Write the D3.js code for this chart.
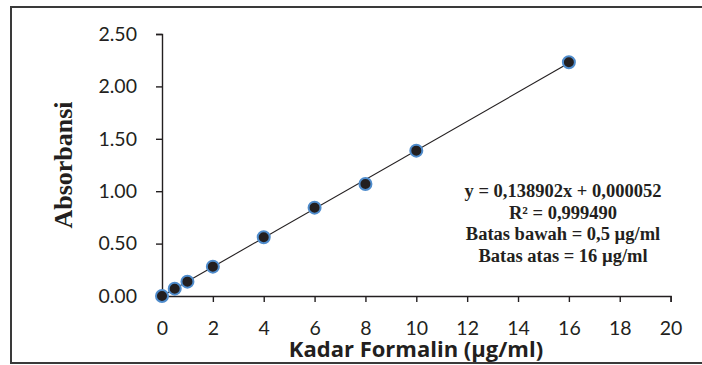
<!DOCTYPE html>
<html>
<head>
<meta charset="utf-8">
<script src="https://cdn.jsdelivr.net/npm/d3@7"></script>
<style>
  html, body { margin: 0; padding: 0; background: #fff; }
  svg { display: block; }
</style>
</head>
<body>
<svg id="chart" width="702" height="365"></svg>
<script>
// kurva kalibrasi formalin
const kadar = [0, 0.5, 1, 2, 4, 6, 8, 10, 16];          // µg/ml
const absorbansi = [0.0, 0.07, 0.137, 0.28, 0.56, 0.843, 1.069, 1.387, 2.23];
const xTicks = [0, 2, 4, 6, 8, 10, 12, 14, 16, 18, 20];
const yTicks = [0, 0.5, 1.0, 1.5, 2.0, 2.5];
const slope = 0.138902, intercept = 0.000052;
const trendX = [0, 16];
const notes = ["y = 0,138902x + 0,000052", "R² = 0,999490", "Batas bawah = 0,5 µg/ml", "Batas atas = 16 µg/ml"];

const INK = "#231f20", BLUE = "#4f8ccc";
const svg = d3.select("#chart");

// bingkai luar (kanan terpotong)
svg.append("rect").attr("x", 11).attr("y", 7).attr("width", 720).attr("height", 356)
  .attr("fill", "none").attr("stroke", "#3a3a3a").attr("stroke-width", 2);

const x = d3.scaleLinear().domain([0, 20]).range([162, 670.6]);
const y = d3.scaleLinear().domain([0, 2.5]).range([296, 34]);

// sumbu
const gx = svg.append("g").attr("transform", "translate(0,296)")
  .call(d3.axisBottom(x).tickValues(xTicks).tickSize(6).tickPadding(22).tickFormat(d3.format("d")));
const gy = svg.append("g").attr("transform", "translate(162,0)")
  .call(d3.axisLeft(y).tickValues(yTicks).tickSize(6).tickPadding(19).tickFormat(d3.format(".2f")));
[gx, gy].forEach((g) => {
  g.select(".domain").attr("stroke", INK).attr("stroke-width", 1.4);
  g.selectAll(".tick line").attr("stroke", INK).attr("stroke-width", 1.4);
  g.selectAll(".tick text").attr("fill", INK).attr("font-family", "Lato, sans-serif").attr("font-size", 19.5);
});
gx.selectAll(".tick text").attr("dy", "0.55em");

// garis tren dari persamaan
const line = d3.line().x((d) => x(d)).y((d) => y(slope * d + intercept));
svg.append("path").datum(trendX).attr("d", line).attr("fill", "none").attr("stroke", INK).attr("stroke-width", 1.1);

// titik data
svg.append("g").selectAll("circle").data(kadar).join("circle")
  .attr("cx", (d) => x(d)).attr("cy", (d, i) => y(absorbansi[i])).attr("r", 6)
  .attr("fill", INK).attr("stroke", BLUE).attr("stroke-width", 2);

// judul sumbu (menimpa label tick, seperti aslinya)
svg.append("text").attr("x", 416).attr("y", 357).attr("text-anchor", "middle")
  .attr("font-family", "'Open Sans', sans-serif").attr("font-weight", 700).attr("font-size", 22).attr("fill", INK)
  .text("Kadar Formalin (µg/ml)");
svg.append("text").attr("transform", "translate(72,165) rotate(-90)").attr("text-anchor", "middle")
  .attr("font-family", "'Liberation Serif', 'Times New Roman', serif").attr("font-weight", 700).attr("font-size", 26).attr("fill", INK)
  .text("Absorbansi");

// keterangan regresi
svg.append("g").selectAll("text").data(notes).join("text")
  .attr("x", 563).attr("y", (d, i) => 197 + i * 21.7).attr("text-anchor", "middle")
  .attr("font-family", "'Liberation Serif', 'Times New Roman', serif").attr("font-weight", 700).attr("font-size", 18.5).attr("fill", INK)
  .text((d) => d);
</script>
</body>
</html>
